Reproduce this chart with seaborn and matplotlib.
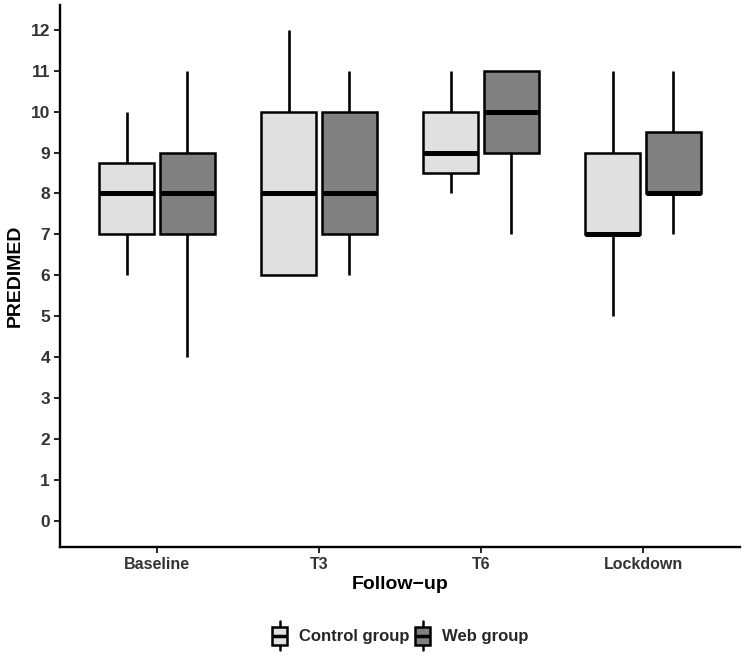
import numpy as np
import pandas as pd
import seaborn as sns
import matplotlib
matplotlib.use("Agg")
import matplotlib.pyplot as plt
from matplotlib.legend_handler import HandlerBase
from matplotlib.patches import Rectangle, Patch
from matplotlib.lines import Line2D

# ---- data (five-number summaries) ----
followup = ["Baseline", "T3", "T6", "Lockdown"]
groups = ["Control group", "Web group"]

control_min = [6, 6, 8, 5]
control_q1 = [7, 6, 8.5, 7]
control_med = [8, 8, 9, 7]
control_q3 = [8.75, 10, 10, 9]
control_max = [10, 12, 11, 11]

web_min = [4, 6, 7, 7]
web_q1 = [7, 7, 9, 8]
web_med = [8, 8, 10, 8]
web_q3 = [9, 10, 11, 9.5]
web_max = [11, 11, 11, 11]

y_ticks = list(range(0, 13))

colors = {"Control group": "#e0e0e0", "Web group": "#808080"}

rows = []
summaries = {
    "Control group": (control_min, control_q1, control_med, control_q3, control_max),
    "Web group": (web_min, web_q1, web_med, web_q3, web_max),
}
for g in groups:
    mins, q1s, meds, q3s, maxs = summaries[g]
    for i, f in enumerate(followup):
        for v in (mins[i], q1s[i], meds[i], q3s[i], maxs[i]):
            rows.append({"Follow-up": f, "group": g, "PREDIMED": v})
df = pd.DataFrame(rows)

sns.set_theme(style="ticks")
plt.rcParams["font.family"] = ["Liberation Sans", "DejaVu Sans"]

fig = plt.figure(figsize=(7.47, 6.61), dpi=100)
ax = fig.add_axes([0.080, 0.172, 0.911, 0.820])

sns.boxplot(
    data=df, x="Follow-up", y="PREDIMED", hue="group",
    order=followup, hue_order=groups, palette=colors,
    whis=(0, 100), width=0.75, gap=0.1, saturation=1,
    linewidth=1.8, linecolor="black", showcaps=False,
    medianprops={"linewidth": 3.6, "color": "black", "solid_capstyle": "butt"},
    whiskerprops={"linewidth": 1.9, "color": "black"},
    legend=False, ax=ax,
)

ax.set_ylim(-0.65, 12.6)
ax.set_xlim(-0.6, 3.6)
ax.set_yticks(y_ticks)
ax.set_yticklabels([str(t) for t in y_ticks])

for s in ("top", "right"):
    ax.spines[s].set_visible(False)
for s in ("left", "bottom"):
    ax.spines[s].set_linewidth(1.7)
    ax.spines[s].set_color("black")

ax.tick_params(axis="both", length=4, width=1.4, color="#222222", pad=3)
for lab in ax.get_yticklabels():
    lab.set_fontsize(12.5)
    lab.set_fontweight("bold")
    lab.set_color("#333333")
for lab in ax.get_xticklabels():
    lab.set_fontsize(11.5)
    lab.set_fontweight("bold")
    lab.set_color("#333333")

ax.set_ylabel("PREDIMED", fontsize=14, fontweight="bold", color="black", labelpad=5)
ax.set_xlabel("Follow\u2212up", fontsize=14, fontweight="bold", color="black", labelpad=3)


class BoxKeyHandler(HandlerBase):
    def create_artists(self, legend, orig_handle, xdescent, ydescent,
                       width, height, fontsize, trans):
        fc = orig_handle.get_facecolor()
        x0, y0 = -xdescent, -ydescent
        cx = x0 + width / 2
        H = 21.0  # points, total key height
        yc = y0 + height / 2
        bw = width * 0.95
        bh = H * 0.6
        by = yc - bh / 2
        wl = Line2D([cx, cx], [yc - H / 2, yc + H / 2],
                    color="black", lw=1.8, transform=trans)
        rect = Rectangle((cx - bw / 2, by), bw, bh, facecolor=fc,
                         edgecolor="black", lw=1.8, transform=trans)
        med = Line2D([cx - bw / 2, cx + bw / 2], [yc, yc],
                     color="black", lw=2.5, transform=trans,
                     solid_capstyle="butt")
        return [wl, rect, med]


handles = [Patch(facecolor=colors[g], edgecolor="black") for g in groups]
leg = fig.legend(
    handles, groups, loc="center", bbox_to_anchor=(0.536, 0.038),
    ncol=2, frameon=False, handler_map={Patch: BoxKeyHandler()},
    handlelength=0.95, handleheight=1.5, handletextpad=0.7,
    columnspacing=0.3, prop={"size": 12, "weight": "bold"},
)

fig.savefig("out.png", dpi=100)
